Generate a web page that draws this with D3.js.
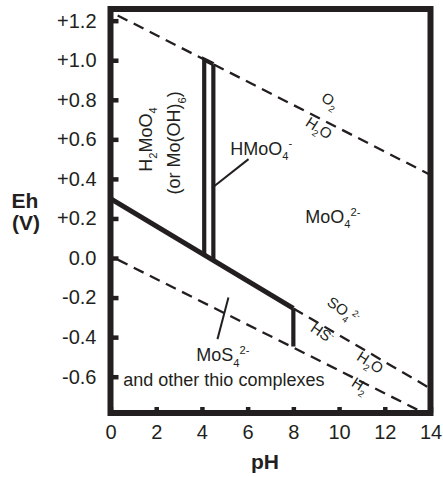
<!DOCTYPE html>
<html>
<head>
<meta charset="utf-8">
<script src="https://cdn.jsdelivr.net/npm/d3@7"></script>
<style>
  body { margin: 0; background: #fff; }
  text { font-family: "Liberation Sans", Arial, Helvetica, sans-serif; fill: #231f20; }
</style>
</head>
<body>
<div id="chart"></div>
<script>
// ----------------------------- DATA -----------------------------------------
var phTicks = [0, 2, 4, 6, 8, 10, 12, 14];
var ehTicks = [1.2, 1.0, 0.8, 0.6, 0.4, 0.2, 0, -0.2, -0.4, -0.6];
var ehTickLabels = ["+1.2", "+1.0", "+0.8", "+0.6", "+0.4", "+0.2", "0.0", "-0.2", "-0.4", "-0.6"];

// boundaries [pH, Eh]
var o2Line = [[0, 1.245], [14, 0.42]];          // O2 / H2O
var h2Line = [[0, 0.01], [14, -0.80]];          // H2O / H2
var moLine = [[0, 0.30], [8, -0.255]];          // molybdate / thio
var so4Line = [[8, -0.255], [14, -0.66]];       // SO4 / HS
var so4Edge = [[8, -0.255], [8, -0.447]];
var h2moo4Edge = [[4.5, 0.98], [4.1, 1.003], [4.1, 0.016]];
var hmoo4Edge = [[4.5, 0.98], [4.5, -0.012]];
var hmoo4Pointer = [[6.04, 0.50], [4.45, 0.355]];
var mos4Pointer = [[5.16, -0.20], [4.68, -0.41]];

// ----------------------------- SET UP ---------------------------------------
var svgWidth = 443, svgHeight = 477;
var ink = "#231f20";

var svg = d3.select("#chart").append("svg")
    .attr("width", svgWidth)
    .attr("height", svgHeight);

var x = d3.scaleLinear().domain([0, 14]).range([110.5, 430.5]);
var y = d3.scaleLinear().domain([-0.7835, 1.259]).range([413, 9]);

var line = d3.line().x(d => x(d[0])).y(d => y(d[1]));

svg.append("clipPath").attr("id", "plot")
  .append("rect")
    .attr("x", x(0)).attr("y", y(1.259))
    .attr("width", x(14) - x(0)).attr("height", y(-0.7835) - y(1.259));

var plot = svg.append("g").attr("clip-path", "url(#plot)");

// dashed water / sulfur lines
[o2Line, h2Line, so4Line].forEach(function(d, i) {
  plot.append("path")
    .attr("d", line(d))
    .attr("fill", "none")
    .attr("stroke", ink)
    .attr("stroke-width", 2.3)
    .attr("stroke-dasharray", "11,7")
    .attr("stroke-dashoffset", i == 2 ? 0 : 10);
});

// thick boundaries
plot.append("path").attr("d", line(moLine))
  .attr("fill", "none").attr("stroke", ink).attr("stroke-width", 5);
[so4Edge, h2moo4Edge, hmoo4Edge].forEach(function(d) {
  plot.append("path").attr("d", line(d))
    .attr("fill", "none").attr("stroke", ink).attr("stroke-width", 4.2)
    .attr("stroke-linejoin", "miter");
});

// label pointers
[hmoo4Pointer, mos4Pointer].forEach(function(d) {
  plot.append("path").attr("d", line(d))
    .attr("fill", "none").attr("stroke", ink).attr("stroke-width", 2);
});

// ----------------------------- AXES -----------------------------------------
var xAxis = d3.axisBottom(x).tickValues(phTicks)
    .tickSizeInner(-6).tickSizeOuter(0).tickPadding(12);
var yAxis = d3.axisLeft(y).tickValues(ehTicks)
    .tickFormat((d, i) => ehTickLabels[i])
    .tickSizeInner(-8).tickSizeOuter(0).tickPadding(14);

var gx = svg.append("g").attr("transform", `translate(0, ${y(-0.7835)})`).call(xAxis);
var gy = svg.append("g").attr("transform", `translate(${x(0)}, 0)`).call(yAxis);
[gx, gy].forEach(function(g) {
  g.select(".domain").remove();
  g.selectAll("line").attr("stroke", ink).attr("stroke-width", 4.5);
  g.selectAll("text").style("font-size", "20px").attr("fill", ink);
});

// frame
svg.append("rect")
  .attr("x", x(0)).attr("y", y(1.259))
  .attr("width", x(14) - x(0)).attr("height", y(-0.7835) - y(1.259))
  .attr("fill", "none").attr("stroke", ink).attr("stroke-width", 6);

// axis titles
svg.append("text").attr("x", 25).attr("y", 208).attr("text-anchor", "middle")
  .style("font-size", "21px").style("font-weight", "bold").text("Eh");
svg.append("text").attr("x", 26).attr("y", 230).attr("text-anchor", "middle")
  .style("font-size", "21px").style("font-weight", "bold").text("(V)");
svg.append("text").attr("x", 265).attr("y", 469).attr("text-anchor", "middle")
  .style("font-size", "21px").style("font-weight", "bold").text("pH");

// ----------------------------- LABELS ---------------------------------------
// parts: [text, "n" | "sub" | "sup"]
function rich(t, parts, size) {
  var shift = 0;
  parts.forEach(function(p) {
    var target = p[1] == "sub" ? 0.3 * size : p[1] == "sup" ? -0.4 * size : 0;
    t.append("tspan")
      .attr("dy", target - shift)
      .style("font-size", (p[1] == "n" ? size : size * 0.62) + "px")
      .text(p[0]);
    shift = target;
  });
  return t;
}

function label(ph, eh, parts, size, opts) {
  opts = opts || {};
  var t = svg.append("text")
    .attr("text-anchor", opts.anchor || "start")
    .attr("transform", `translate(${x(ph)}, ${y(eh)}) rotate(${opts.rotate || 0})`);
  if (opts.anchor == "middle" && opts.rotate > 0) t.attr("dy", "0.35em");
  return rich(t, parts, size);
}

label(1.80, 0.599, [["H", "n"], ["2", "sub"], ["MoO", "n"], ["4", "sub"]], 18, {anchor: "middle", rotate: -90});
label(3.05, 0.582, [["(or Mo(OH)", "n"], ["6", "sub"], [")", "n"]], 18, {anchor: "middle", rotate: -90});
label(5.24, 0.523, [["HMoO", "n"], ["4", "sub"], ["-", "sup"]], 18);
label(8.52, 0.178, [["MoO", "n"], ["4", "sub"], ["2-", "sup"]], 18);
label(3.75, -0.522, [["MoS", "n"], ["4", "sub"], ["2-", "sup"]], 18);
label(0.56, -0.648, [["and other thio complexes", "n"]], 18);

var a1 = Math.atan2(y(o2Line[1][1]) - y(o2Line[0][1]), x(14) - x(0)) * 180 / Math.PI;
var a2 = Math.atan2(y(so4Line[1][1]) - y(so4Line[0][1]), x(14) - x(8)) * 180 / Math.PI;
var a3 = Math.atan2(y(h2Line[1][1]) - y(h2Line[0][1]), x(14) - x(0)) * 180 / Math.PI;

label(9.49, 0.775, [["O", "n"], ["2", "sub"]], 15, {anchor: "middle", rotate: a1 + 6});
label(9.0, 0.635, [["H", "n"], ["2", "sub"], ["O", "n"]], 15, {anchor: "middle", rotate: a1 + 6});
label(10.06, -0.285, [["SO", "n"], ["4", "sub"], ["2-", "sup"]], 15, {anchor: "middle", rotate: a2 + 4});
label(9.14, -0.40, [["HS", "n"], ["-", "sup"]], 15, {anchor: "middle", rotate: a2 + 4});
label(11.24, -0.55, [["H", "n"], ["2", "sub"], ["O", "n"]], 15, {anchor: "middle", rotate: a3 + 6});
label(10.80, -0.665, [["H", "n"], ["2", "sub"]], 15, {anchor: "middle", rotate: a3 + 6});
</script>
</body>
</html>
